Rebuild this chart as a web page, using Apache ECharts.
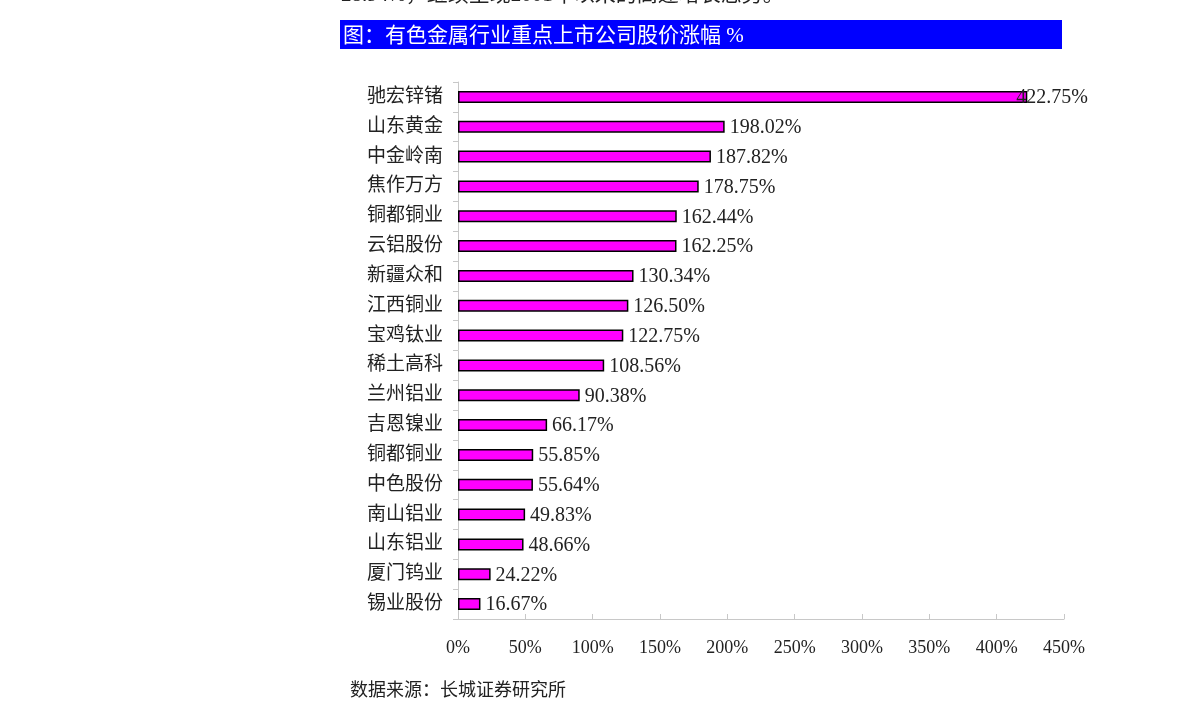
<!DOCTYPE html>
<html>
<head>
<meta charset="utf-8">
<script src="https://cdn.jsdelivr.net/npm/echarts@6/dist/echarts.min.js"></script>
<style>
  html, body { margin: 0; padding: 0; background: #fff; }
  #chart { width: 1190px; height: 720px; }
</style>
</head>
<body>
<div id="chart"></div>
<script>
// 公司名称（自上而下）
var companies = ['驰宏锌锗', '山东黄金', '中金岭南', '焦作万方', '铜都铜业', '云铝股份',
  '新疆众和', '江西铜业', '宝鸡钛业', '稀土高科', '兰州铝业', '吉恩镍业',
  '铜都铜业', '中色股份', '南山铝业', '山东铝业', '厦门钨业', '锡业股份'];
// 股价涨幅 %
var gains = [422.75, 198.02, 187.82, 178.75, 162.44, 162.25,
  130.34, 126.50, 122.75, 108.56, 90.38, 66.17,
  55.85, 55.64, 49.83, 48.66, 24.22, 16.67];
var xTicks = [0, 50, 100, 150, 200, 250, 300, 350, 400, 450];

var titleText = '图：有色金属行业重点上市公司股价涨幅 %';
var sourceText = '数据来源：长城证券研究所';
var topLine = '28.94%，继续呈现2001年以来的高速增长态势。';

var FONT = '"Liberation Serif", "Noto Sans CJK SC", serif';

var chart = echarts.init(document.getElementById('chart'));

var barData = gains.map(function (v, i) {
  var item = { value: v };
  if (i === 0) item.label = { offset: [-16, 1] }; // 原图中该标签压在柱子末端
  return item;
});

chart.setOption({
  backgroundColor: '#fff',
  animation: false,
  textStyle: { fontFamily: FONT },
  grid: { left: 458, right: 126, top: 82, bottom: 101, containLabel: false },
  xAxis: {
    type: 'value',
    min: xTicks[0],
    max: xTicks[xTicks.length - 1],
    interval: 50,
    axisLine: { show: true, lineStyle: { color: '#c8c8c8', width: 1 } },
    axisTick: { show: true, inside: true, length: 5, lineStyle: { color: '#c8c8c8' } },
    splitLine: { show: false },
    axisLabel: {
      margin: 20,
      color: '#222',
      fontSize: 18,
      fontFamily: FONT,
      formatter: function (v) { return v + '%'; }
    }
  },
  yAxis: {
    type: 'category',
    data: companies,
    inverse: true,
    axisLine: { show: true, lineStyle: { color: '#c8c8c8', width: 1 } },
    axisTick: { show: true, length: 5, lineStyle: { color: '#c8c8c8' } },
    axisLabel: { margin: 15, color: '#222', fontSize: 19, fontFamily: FONT, padding: [3, 0, 0, 0] }
  },
  series: [{
    type: 'bar',
    data: barData,
    barWidth: 12,
    itemStyle: { color: '#ff00ff', borderColor: '#000', borderWidth: 1.5 },
    label: {
      show: true,
      position: 'right',
      distance: 5,
      offset: [0, 1],
      color: '#222',
      fontSize: 20,
      fontFamily: FONT,
      formatter: function (p) { return p.value.toFixed(2) + '%'; }
    }
  }],
  graphic: [
    {
      type: 'text',
      left: 341,
      top: -15,
      style: { text: topLine, font: '21px ' + FONT, fill: '#222' }
    },
    {
      type: 'rect',
      shape: { x: 340, y: 20, width: 722, height: 29 },
      style: { fill: '#0000ff' }
    },
    {
      type: 'text',
      x: 343,
      y: 36,
      style: {
        text: titleText,
        font: '21px ' + FONT,
        fill: '#fff',
        verticalAlign: 'middle'
      }
    },
    {
      type: 'text',
      x: 350,
      y: 691,
      style: {
        text: sourceText,
        font: '18px ' + FONT,
        fill: '#222',
        verticalAlign: 'middle'
      }
    }
  ]
});
</script>
</body>
</html>
